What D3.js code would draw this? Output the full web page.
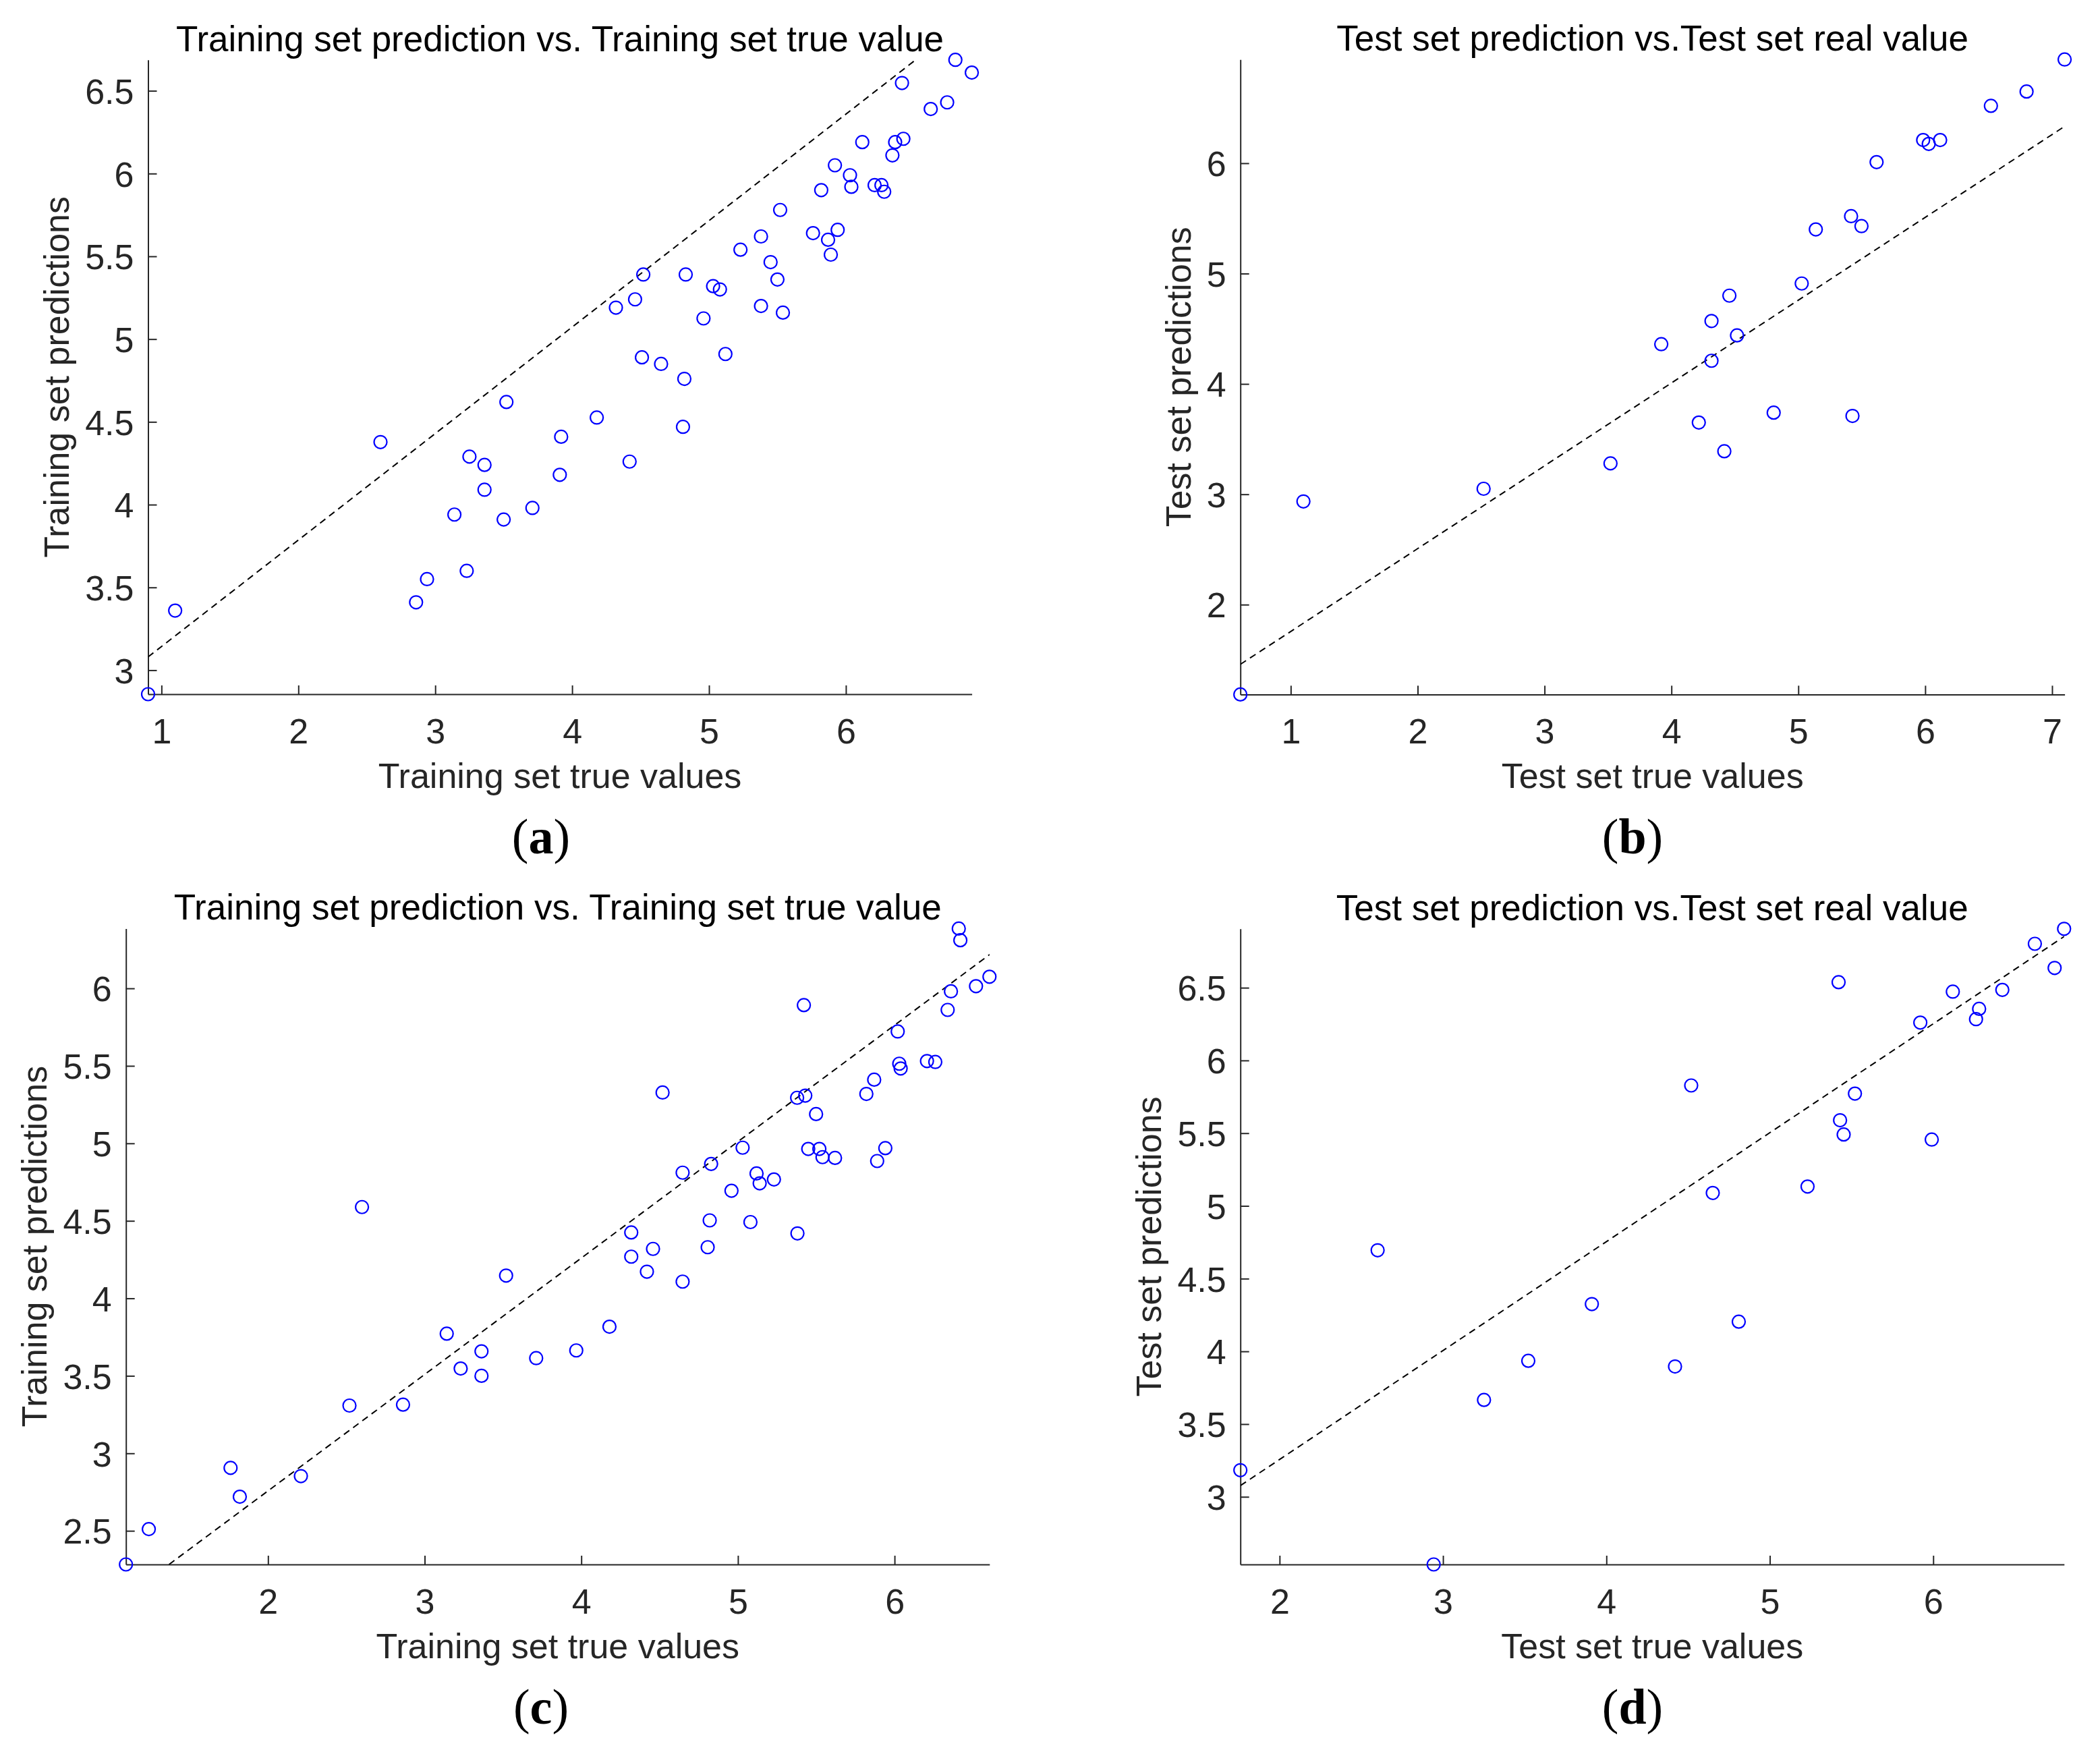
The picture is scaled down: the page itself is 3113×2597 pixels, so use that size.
<!DOCTYPE html>
<html>
<head>
<meta charset="utf-8">
<script src="https://cdn.jsdelivr.net/npm/d3@7"></script>
<style>
  html, body { margin: 0; padding: 0; background: #fff; }
  svg { display: block; }
</style>
</head>
<body>
<svg id="chart" width="3113" height="2597"></svg>
<script>
// ---------- DATA ----------
// (a) Training set (model 1)
const trainTrueA = [0.902, 1.10, 2.60, 2.86, 2.94, 3.14, 3.23, 3.25, 3.36, 3.36, 3.50, 3.52, 3.71, 3.91, 3.92,
  4.18, 4.42, 4.32, 4.46, 4.52, 4.51, 4.65, 4.82, 4.81, 4.83, 4.96, 5.03, 5.08, 5.12, 5.23, 5.38, 5.38, 5.45, 5.50, 5.54,
  5.52, 5.76, 5.82, 5.87, 5.89, 5.94, 5.92, 6.03, 6.04, 6.12, 6.21, 6.26, 6.28, 6.34, 6.36, 6.42, 6.41, 6.62, 6.74, 6.80, 6.92];
const trainPredA = [2.855, 3.36, 4.378, 3.41, 3.55, 3.94, 3.60, 4.29, 4.24, 4.09, 3.91, 4.62, 3.98, 4.18, 4.41,
  4.526, 4.26, 5.19, 5.24, 5.39, 4.89, 4.85, 4.76, 4.47, 5.39, 5.125, 5.32, 5.30, 4.91, 5.54, 5.62, 5.20, 5.465, 5.36, 5.16,
  5.78, 5.64, 5.90, 5.60, 5.51, 5.66, 6.05, 5.99, 5.92, 6.19, 5.93, 5.93, 5.89, 6.11, 6.19, 6.21, 6.547, 6.39, 6.43, 6.687, 6.61];
// (b) Test set (model 1)
const testTrueB = [0.603, 1.10, 2.52, 3.52, 3.92, 4.216, 4.316, 4.316, 4.457, 4.417, 4.517, 4.806, 5.027, 5.138,
  5.416, 5.498, 5.427, 5.617, 5.984, 6.028, 6.118, 6.518, 6.799, 7.099];
const testPredB = [1.186, 2.935, 3.05, 3.28, 4.36, 3.65, 4.57, 4.21, 4.80, 3.39, 4.44, 3.74, 4.91, 5.40,
  5.52, 5.43, 3.71, 6.01, 6.21, 6.175, 6.21, 6.52, 6.65, 6.94];
// (c) Training set (model 2)
const trainTrueC = [1.093, 1.239, 1.761, 1.82, 2.21, 2.60, 2.52, 2.862, 3.141, 3.23, 3.363, 3.363, 3.52, 3.712,
  3.968, 4.18, 4.319, 4.319, 4.419, 4.458, 4.519, 4.647, 4.647, 4.82, 4.807, 4.829, 4.959, 5.03, 5.08, 5.119, 5.139,
  5.23, 5.378, 5.43, 5.421, 5.38, 5.499, 5.449, 5.52, 5.54, 5.62, 5.82, 5.87, 5.889, 5.941, 6.02, 6.03, 6.039, 6.207,
  6.26, 6.339, 6.36, 6.41, 6.42, 6.52, 6.606];
const trainPredC = [2.283, 2.511, 2.906, 2.72, 2.853, 4.589, 3.308, 3.314, 3.772, 3.547, 3.658, 3.50, 4.147, 3.614,
  3.664, 3.817, 4.425, 4.269, 4.172, 4.319, 5.328, 4.811, 4.108, 4.503, 4.33, 4.867, 4.694, 4.972, 4.492, 4.806, 4.742,
  4.767, 5.294, 5.308, 5.892, 4.419, 5.189, 4.964, 4.964, 4.911, 4.906, 5.319, 5.411, 4.886, 4.969, 5.722, 5.514, 5.483, 5.531,
  5.525, 5.861, 5.981, 6.386, 6.311, 6.014, 6.075];
// (d) Test set (model 2)
const testTrueD = [1.76, 2.60, 2.943, 3.251, 3.522, 3.911, 4.42, 4.519, 4.81, 4.651, 5.231, 5.421, 5.43, 5.452,
  5.521, 5.991, 5.921, 6.12, 6.262, 6.281, 6.423, 6.622, 6.743, 6.801];
const testPredD = [3.183, 4.695, 2.535, 3.666, 3.935, 4.325, 3.896, 5.828, 4.204, 5.089, 5.133, 6.538, 5.589, 5.491,
  5.772, 5.456, 6.26, 6.473, 6.284, 6.355, 6.485, 6.802, 6.636, 6.905];

// Reference (dashed) lines: [x1, y1, x2, y2] in data units
const refLineA = [0.902, 3.08, 6.51, 6.687];
const refLineB = [0.603, 1.459, 7.10, 6.335];
const refLineC = [1.368, 2.283, 6.62, 6.228];
const refLineD = [1.76, 3.077, 6.805, 6.855];

// Tick values
const xTicksA = [1, 2, 3, 4, 5, 6];
const yTicksA = [3, 3.5, 4, 4.5, 5, 5.5, 6, 6.5];
const xTicksB = [1, 2, 3, 4, 5, 6, 7];
const yTicksB = [2, 3, 4, 5, 6];
const xTicksC = [2, 3, 4, 5, 6];
const yTicksC = [2.5, 3, 3.5, 4, 4.5, 5, 5.5, 6];
const xTicksD = [2, 3, 4, 5, 6];
const yTicksD = [3, 3.5, 4, 4.5, 5, 5.5, 6, 6.5];

// Texts
const titles = ["Training set prediction vs. Training set true value", "Test set prediction vs.Test set real value",
                "Training set prediction vs. Training set true value", "Test set prediction vs.Test set real value"];
const xLabels = ["Training set true values", "Test set true values", "Training set true values", "Test set true values"];
const yLabels = ["Training set predictions", "Test set predictions", "Training set predictions", "Test set predictions"];
const captions = ["a", "b", "c", "d"];

// ---------- LAYOUT ----------
const frames = [
  {l: 219.5, t: 88.7, r: 1440.6, b: 1029, cx: 802, cy: 1265},
  {l: 1838.7, t: 88.2, r: 3060.6, b: 1029.4, cx: 2420, cy: 1265},
  {l: 186.7, t: 1376.4, r: 1466.8, b: 2319, cx: 802, cy: 2555},
  {l: 1838.7, t: 1376.8, r: 3059.8, b: 2319, cx: 2420, cy: 2555}
];

const panels = [
  {xs: trainTrueA, ys: trainPredA, line: refLineA, xt: xTicksA, yt: yTicksA},
  {xs: testTrueB, ys: testPredB, line: refLineB, xt: xTicksB, yt: yTicksB},
  {xs: trainTrueC, ys: trainPredC, line: refLineC, xt: xTicksC, yt: yTicksC},
  {xs: testTrueD, ys: testPredD, line: refLineD, xt: xTicksD, yt: yTicksD}
];

const FONT = "'Liberation Sans', Arial, Helvetica, sans-serif";
const AX = "#262626";
const svg = d3.select("#chart");
svg.append("rect").attr("width", 3113).attr("height", 2597).attr("fill", "#fff");
const fmt = d3.format("~g");

panels.forEach((p, i) => {
  const f = frames[i];
  const x = d3.scaleLinear().domain(d3.extent(p.xs)).range([f.l, f.r]);
  const y = d3.scaleLinear().domain(d3.extent(p.ys)).range([f.b, f.t]);
  const g = svg.append("g");

  const clipId = "clip" + i;
  svg.append("clipPath").attr("id", clipId).append("rect")
    .attr("x", f.l).attr("y", f.t).attr("width", f.r - f.l).attr("height", f.b - f.t);

  // axes
  const xAxis = g.append("g").attr("transform", `translate(0,${f.b})`)
    .call(d3.axisBottom(x).tickValues(p.xt).tickFormat(fmt).tickSizeInner(-13).tickSizeOuter(0).tickPadding(36));
  const yAxis = g.append("g").attr("transform", `translate(${f.l},0)`)
    .call(d3.axisLeft(y).tickValues(p.yt).tickFormat(fmt).tickSizeInner(-13).tickSizeOuter(0).tickPadding(21));
  [xAxis, yAxis].forEach(a => {
    a.attr("font-family", FONT).attr("font-size", 52).attr("color", AX);
    a.selectAll("path, line").attr("stroke-width", 2);
    a.selectAll("text").attr("fill", AX);
  });
  yAxis.selectAll("text").attr("dy", "0.36em");

  // dashed reference line
  g.append("line")
    .attr("clip-path", `url(#${clipId})`)
    .attr("x1", x(p.line[0])).attr("y1", y(p.line[1]))
    .attr("x2", x(p.line[2])).attr("y2", y(p.line[3]))
    .attr("stroke", "#000").attr("stroke-width", 2).attr("stroke-dasharray", "10,7");

  // points
  g.selectAll("circle.pt").data(d3.range(p.xs.length)).join("circle")
    .attr("class", "pt")
    .attr("cx", k => x(p.xs[k])).attr("cy", k => y(p.ys[k]))
    .attr("r", 9.5).attr("fill", "none").attr("stroke", "#0000ff").attr("stroke-width", 2.2);

  // title
  g.append("text").attr("x", (f.l + f.r) / 2).attr("y", f.t - 13)
    .attr("text-anchor", "middle").attr("font-family", FONT).attr("font-size", 53).attr("fill", "#000")
    .text(titles[i]);

  // x label
  g.append("text").attr("x", (f.l + f.r) / 2).attr("y", f.b + 139)
    .attr("text-anchor", "middle").attr("font-family", FONT).attr("font-size", 52).attr("fill", AX)
    .text(xLabels[i]);

  // y label, placed left of the tick labels
  let minX = Infinity;
  yAxis.selectAll("text").each(function() {
    const bb = this.getBBox();
    minX = Math.min(minX, f.l + bb.x);
  });
  g.append("text").attr("transform", `translate(${minX - 24},${(f.t + f.b) / 2}) rotate(-90)`)
    .attr("text-anchor", "middle").attr("font-family", FONT).attr("font-size", 52).attr("fill", AX)
    .text(yLabels[i]);

  // caption (a)...(d)
  const cap = svg.append("text").attr("x", f.cx).attr("y", f.cy)
    .attr("text-anchor", "middle").attr("font-family", "'Liberation Serif', 'Times New Roman', serif")
    .attr("font-size", 74).attr("fill", "#000");
  cap.append("tspan").text("(");
  cap.append("tspan").attr("font-weight", "bold").text(captions[i]);
  cap.append("tspan").text(")");
});
</script>
</body>
</html>
